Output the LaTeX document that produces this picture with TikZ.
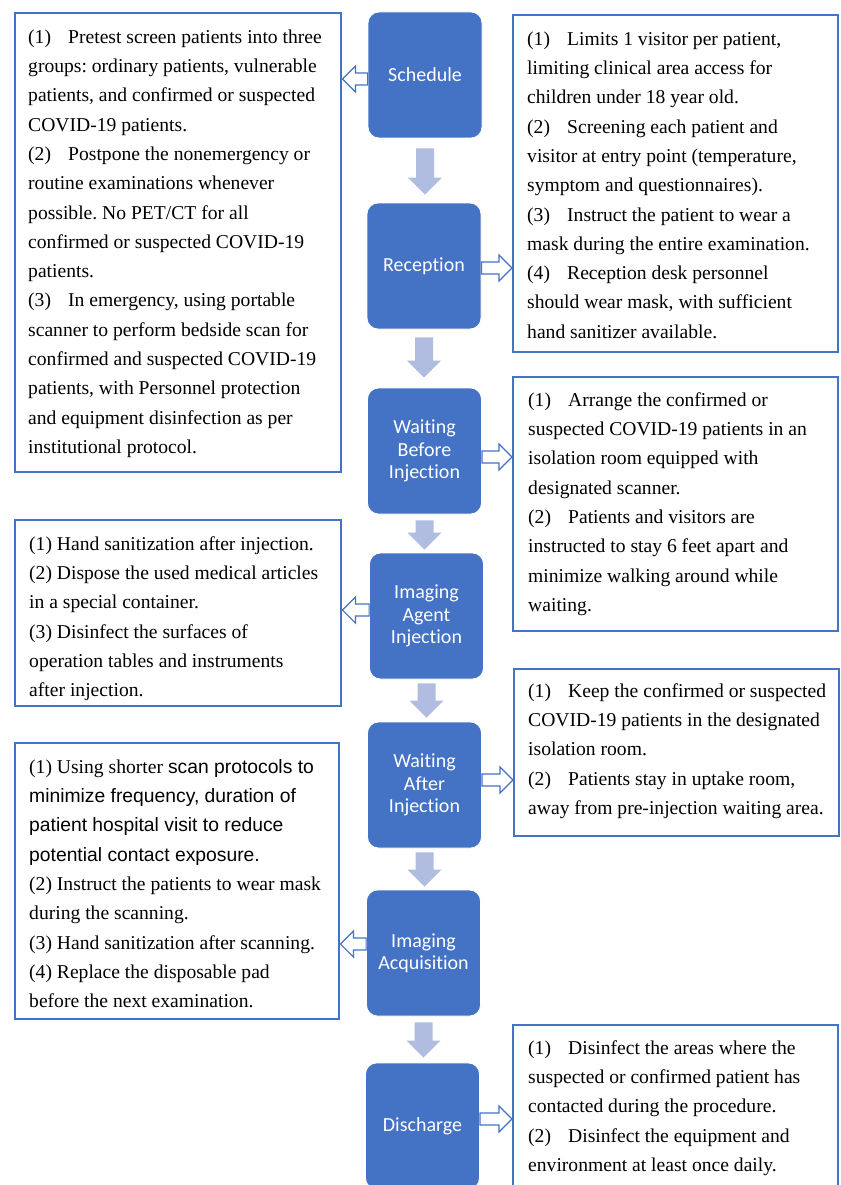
\documentclass[tikz,border=0pt]{standalone}
\usepackage{fontspec}
\setmainfont{Liberation Serif}
\newfontfamily\arialf{Liberation Sans}
\newfontfamily\calibf[Ligatures={NoCommon,NoRare}]{Carlito}
\usetikzlibrary{calc}
\definecolor{accent}{HTML}{4472C4}
\definecolor{arrowfill}{RGB}{176,188,224}
\frenchspacing
\newcommand\tb[1]{\makebox[40pt][l]{#1}}
\newcommand\fst{\rule{0pt}{15pt}}
\newcommand\sansline{\arialf\fontsize{19.3}{29.3}\selectfont}
% vertical block arrow: from node, to node, top gap, bottom gap
\newcommand\dnblock[4]{%
  \fill[dnarrow] let \p1=(#1.south), \p2=(#2.north) in
    (\x1-9,\y1-#3) -- (\x1+9,\y1-#3) -- (\x1+9,\y2+#4+17) -- (\x1+17,\y2+#4+17)
    -- (\x1,\y2+#4) -- (\x1-17,\y2+#4+17) -- (\x1-9,\y2+#4+17) -- cycle;}
% horizontal hollow block arrow: start point, target anchor, head offset (+13 left / -13 right)
\newcommand\sideblock[3]{%
  \filldraw[sidearrow] let \p1=(#1), \p2=(#2) in
    (\x1,\y1+6) -- (\x2#3,\y1+6) -- (\x2#3,\y1+13) -- (\x2,\y1)
    -- (\x2#3,\y1-13) -- (\x2#3,\y1-6) -- (\x1,\y1-6) -- cycle;}
\begin{document}
\begin{tikzpicture}[x=1pt,y=1pt,
  stepbox/.style={rectangle, rounded corners=11pt, fill=accent, draw=white, line width=0.8pt,
    minimum width=114pt, minimum height=126pt, inner sep=0pt, text=white, align=center,
    font=\calibf\fontsize{20}{22.5}\selectfont},
  notebox/.style={rectangle, draw=accent, line width=2.4pt, fill=white, anchor=north west, inner sep=0pt},
  notetext/.style={anchor=north west, inner sep=0pt, align=left, font=\fontsize{19.6}{29.3}\selectfont},
  dnarrow/.style={fill=arrowfill},
  sidearrow/.style={draw=accent, line width=1.2pt, fill=white, line join=miter}
]
\useasboundingbox (0,0) rectangle (840,-1185);
\clip (0,0) rectangle (840,-1185);

% note frames
\node[notebox, minimum width=326pt, minimum height=459pt] (L1) at (14,-12) {};
\node[notebox, minimum width=325pt, minimum height=337pt] (R1) at (512,-14) {};
\node[notebox, minimum width=325pt, minimum height=254pt] (R2) at (512,-376) {};
\node[notebox, minimum width=326pt, minimum height=186pt] (L2) at (14,-519) {};
\node[notebox, minimum width=325pt, minimum height=167pt] (R3) at (513,-668) {};
\node[notebox, minimum width=324pt, minimum height=276pt] (L3) at (14,-742) {};
\node[notebox, minimum width=325pt, minimum height=190pt] (R4) at (512,-1024) {};

% step boxes
\node[stepbox] (s1) at (425,-75) {Schedule};
\node[stepbox] (s2) at (424,-266) {Reception};
\node[stepbox] (s3) at (424.5,-451) {Waiting\\Before\\Injection};
\node[stepbox] (s4) at (426.5,-616) {Imaging\\Agent\\Injection};
\node[stepbox] (s5) at (424.5,-785) {Waiting\\After\\Injection};
\node[stepbox] (s6) at (423.5,-953) {Imaging\\Acquisition};
\node[stepbox] (s7) at (422.5,-1126) {Discharge};

% down arrows
\dnblock{s1}{s2}{10}{8}
\dnblock{s2}{s3}{8}{10}
\dnblock{s3}{s4}{6}{3}
\dnblock{s4}{s5}{4}{4}
\dnblock{s5}{s6}{4}{3}
\dnblock{s6}{s7}{6}{5}

% side arrows
\sideblock{$(s1.west)+(0,-4)$}{L1.east}{+13}
\sideblock{$(s2.east)+(0,-2)$}{R1.west}{-13}
\sideblock{$(s3.east)+(0,-6)$}{R2.west}{-13}
\sideblock{$(s4.west)+(0,6)$}{L2.east}{+13}
\sideblock{$(s5.east)+(0,5)$}{R3.west}{-13}
\sideblock{$(s6.west)+(0,9)$}{L3.east}{+13}
\sideblock{$(s7.east)+(0,7)$}{R4.west}{-13}

% note texts
\node[notetext] (L1t) at (28,-28) {\fst\tb{(1)}Pretest screen patients into three\\
groups: ordinary patients, vulnerable\\
patients, and confirmed or suspected\\
COVID-19 patients.\\
\tb{(2)}Postpone the nonemergency or\\
routine examinations whenever\\
possible. No PET/CT for all\\
confirmed or suspected COVID-19\\
patients.\\
\tb{(3)}In emergency, using portable\\
scanner to perform bedside scan for\\
confirmed and suspected COVID-19\\
patients, with Personnel protection\\
and equipment disinfection as per\\
institutional protocol.};

\node[notetext] (R1t) at (527,-30) {\fst\tb{(1)}Limits 1 visitor per patient,\\
limiting clinical area access for\\
children under 18 year old.\\
\tb{(2)}Screening each patient and\\
visitor at entry point (temperature,\\
symptom and questionnaires).\\
\tb{(3)}Instruct the patient to wear a\\
mask during the entire examination.\\
\tb{(4)}Reception desk personnel\\
should wear mask, with sufficient\\
hand sanitizer available.};

\node[notetext] (R2t) at (528,-391) {\fst\tb{(1)}Arrange the confirmed or\\
suspected COVID-19 patients in an\\
isolation room equipped with\\
designated scanner.\\
\tb{(2)}Patients and visitors are\\
instructed to stay 6 feet apart and\\
minimize walking around while\\
waiting.};

\node[notetext] (L2t) at (29,-535) {\fst(1) Hand sanitization after injection.\\
(2) Dispose the used medical articles\\
in a special container.\\
(3) Disinfect the surfaces of\\
operation tables and instruments\\
after injection.};

\node[notetext] (R3t) at (528,-682) {\fst\tb{(1)}Keep the confirmed or suspected\\
COVID-19 patients in the designated\\
isolation room.\\
\tb{(2)}Patients stay in uptake room,\\
away from pre-injection waiting area.};

\node[notetext] (L3t) at (29,-758) {\fst(1) Using shorter {\sansline scan protocols to}\\
{\sansline minimize frequency, duration of}\\
{\sansline patient hospital visit to reduce}\\
{\sansline potential contact exposure.}\\
(2) Instruct the patients to wear mask\\
during the scanning.\\
(3) Hand sanitization after scanning.\\
(4) Replace the disposable pad\\
before the next examination.};

\node[notetext] (R4t) at (528,-1039) {\fst\tb{(1)}Disinfect the areas where the\\
suspected or confirmed patient has\\
contacted during the procedure.\\
\tb{(2)}Disinfect the equipment and\\
environment at least once daily.};
\end{tikzpicture}
\end{document}
